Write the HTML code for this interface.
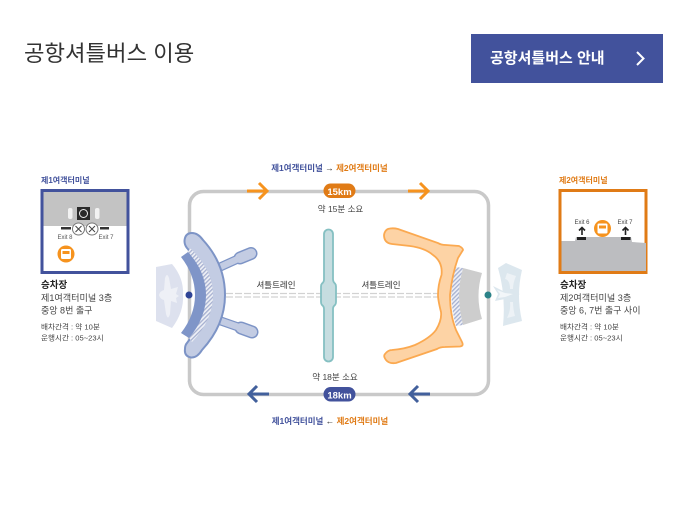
<!DOCTYPE html>
<html lang="ko"><head><meta charset="utf-8"><style>
html,body{margin:0;padding:0;background:#fff}
svg{display:block}
text{font-family:"Liberation Sans","Noto Sans CJK KR",sans-serif;}
</style></head><body>
<svg width="694" height="509" viewBox="0 0 694 509" xmlns="http://www.w3.org/2000/svg">
<defs>
<pattern id="h" width="3" height="3" patternUnits="userSpaceOnUse" patternTransform="rotate(-45)"><rect width="3" height="3" fill="#eef0f6"/><rect width="3" height="1.300" fill="#a6b0d0"/></pattern>
</defs>
<rect width="694" height="509" fill="#fff"/>
<text x="24" y="61" font-size="22.300" fill="#333">공항셔틀버스 이용</text>
<rect x="471" y="34" width="192" height="49" fill="#42529c"/>
<text x="490" y="63" font-size="15" font-weight="700" fill="#fff">공항셔틀버스 안내</text>
<path d="M637 52l6.500 6.500-6.500 6.500" fill="none" stroke="#fff" stroke-width="2"/>

<!-- route -->
<rect x="189.500" y="191.500" width="299" height="203" rx="14" fill="none" stroke="#c9c9c9" stroke-width="3.500"/>
<text x="329.500" y="171" font-size="8.500" font-weight="700" text-anchor="middle"><tspan fill="#42529c">제1여객터미널</tspan><tspan fill="#222"> → </tspan><tspan fill="#e07b16">제2여객터미널</tspan></text>
<text x="330" y="424" font-size="8.500" font-weight="700" text-anchor="middle"><tspan fill="#42529c">제1여객터미널</tspan><tspan fill="#222"> ← </tspan><tspan fill="#e07b16">제2여객터미널</tspan></text>
<path d="M247 191h20M259 183l8 8-8 8M408 191h20M420 183l8 8-8 8" fill="none" stroke="#f6931e" stroke-width="3"/>
<path d="M269 394h-20M257 386l-8 8 8 8M430 394h-20M418 386l-8 8 8 8" fill="none" stroke="#42609c" stroke-width="3"/>
<rect x="323.500" y="183.500" width="32" height="14.500" rx="7.200" fill="#e07b16"/>
<text x="339.500" y="195" font-size="9.500" font-weight="700" fill="#fff" text-anchor="middle">15km</text>
<rect x="323.500" y="387" width="32" height="14.500" rx="7.200" fill="#42529c"/>
<text x="339.500" y="398.300" font-size="9.500" font-weight="700" fill="#fff" text-anchor="middle">18km</text>
<text x="340.500" y="212" font-size="8.500" fill="#444" text-anchor="middle">약 15분 소요</text>
<text x="335" y="380" font-size="8.500" fill="#444" text-anchor="middle">약 18분 소요</text>

<!-- train line -->
<path d="M226 293.500H452M226 297H452" stroke="#d2d2d2" stroke-width="1.300" stroke-dasharray="7 2" fill="none"/>
<text x="276" y="288" font-size="8.500" fill="#333" text-anchor="middle">셔틀트레인</text>
<text x="381" y="288" font-size="8.500" fill="#333" text-anchor="middle">셔틀트레인</text>
<path d="M324 234a4.500 4.500 0 0 1 9 0V279q0 3 2 4.500q1 1 1 3V302q0 2-1 3q-2 1.500-2 4V357a4.500 4.500 0 0 1-9 0V309q0-2.500-2-4q-1-1-1-3V286.500q0-2 1-3q2-1.500 2-4Z" fill="#c6dde0" stroke="#85c0c2" stroke-width="1.800"/>

<!-- left plane -->
<path d="M156 267L172 264Q184 278 183 295Q184 312 172 328L156 321Z" fill="#dde1ee"/>
<path d="M159 295Q160 291 164 290L165 278Q167 272 169 278L171 289L178 287L176 294L179 296L176 298L177 303L171 301L170 314Q168 321 166 314L164 300Q160 299 159 295Z" fill="#eef0f6"/>
<circle cx="189" cy="295" r="3.500" fill="#2f4496"/>

<!-- left terminal -->
<path d="M218 268L240 258M240 258L251 253.500" stroke="#7d94c6" stroke-width="9" stroke-linecap="round" fill="none"/>
<path d="M218 320L241 328" stroke="#7d94c6" stroke-width="9" stroke-linecap="round" fill="none"/>
<path d="M241 328L252 332" stroke="#7d94c6" stroke-width="13" stroke-linecap="round" fill="none"/>
<path d="M240 258L251 253.500" stroke="#7d94c6" stroke-width="13" stroke-linecap="round" fill="none"/>
<path d="M218 268L240 258" stroke="#c3cce3" stroke-width="6.500" fill="none"/>
<path d="M240 258L251 253.500" stroke="#c3cce3" stroke-width="10" stroke-linecap="round" fill="none"/>
<path d="M218 320L241 328" stroke="#c3cce3" stroke-width="6.500" fill="none"/>
<path d="M241 328L252 332" stroke="#c3cce3" stroke-width="10" stroke-linecap="round" fill="none"/>
<path d="M184.500 241Q185 233 192 233Q198 233 203 240Q225 264 225 295Q225 325 202 350Q197 358 191 357.500Q184 356 185 349Q185 345 187 343Q205 320 205 295Q205 268 187 248Q184.500 245 184.500 241Z" fill="#c3cce3" stroke="#7d94c6" stroke-width="2"/>
<path d="M190 248Q213 270 213 295Q213 320 192 342L189 338Q205 318 205 295Q205 270 188 252Z" fill="url(#h)"/>
<path d="M181 257L188 252Q206 272 206 295Q206 318 189 338L181 333Q195 315 195 295Q195 275 181 257Z" fill="#7f95c8"/>

<!-- right terminal -->
<path d="M463 268L482 273Q475 296 482 319L463 325Q455 295 463 268Z" fill="#cdcdcd"/>
<path d="M456 267L463 268Q455 295 463 325L456 326Q447 295 456 267Z" fill="url(#h)"/>
<path d="M384 235Q385 229 390 228.500Q394 228 398 229L438 243Q441 245 446 245L459 246Q463 248 463 250L458 258Q452 275 450 295Q450 315 456 330L462 342Q464 346 460 346.500L445 347Q440 347 437 349L396 363Q389 364 386 360Q383 356 385 354Q388 350 392 350Q405 349 415 345Q430 338 436 330Q442 320 441 312Q438 300 438 295Q438 285 441.500 275Q443 262 433 255Q425 248 410 246L392 244Q384 243 384 235Z" fill="#fdd3a5" stroke="#fba950" stroke-width="1.800"/>

<!-- right plane -->
<path d="M506 263L522 270Q516 295 522 321L503 326Q506 295 498 268Z" fill="#dce7ee"/>
<path d="M507 273L516 276Q513 283 513 289L510 289Q510 280 505 279Z" fill="#edf2f6"/>
<path d="M510 302L513 302Q513 309 515 316L507 318Q511 310 510 302Z" fill="#edf2f6"/>
<path d="M493 286L505 292L520 294L505 299L495 301L498 294Z" fill="#dce7ee"/>
<path d="M497 290L505 293L513 294L505 297L498 298L500 294Z" fill="#f2f6f9"/>
<circle cx="488" cy="295" r="3.500" fill="#2b8288"/>

<!-- left card -->
<text x="41" y="183" font-size="8" font-weight="700" fill="#42529c">제1여객터미널</text>
<rect x="42" y="190.500" width="86" height="82" fill="#fff" stroke="#42529c" stroke-width="3"/>
<rect x="43.500" y="192" width="83" height="34" fill="#c3c3c3"/>
<rect x="77" y="207" width="13" height="13" fill="#2a2a2a"/>
<circle cx="83.500" cy="213.500" r="4" fill="none" stroke="#eee" stroke-width="1"/>
<rect x="68" y="208" width="4.500" height="11" rx="2" fill="#f2f2f2"/>
<rect x="95" y="208" width="4.500" height="11" rx="2" fill="#f2f2f2"/>
<rect x="61" y="227" width="10" height="2.500" fill="#333"/>
<rect x="100" y="227" width="9" height="2.500" fill="#333"/>
<circle cx="78.500" cy="229" r="6" fill="#fff" stroke="#777" stroke-width="1"/>
<circle cx="92" cy="229" r="6" fill="#fff" stroke="#777" stroke-width="1"/>
<path d="M75.500 226l6 6M81.500 226l-6 6M89 226l6 6M95 226l-6 6" stroke="#444" stroke-width="1"/>
<text x="65" y="239" font-size="6" fill="#555" text-anchor="middle">Exit 8</text>
<text x="106" y="239" font-size="6" fill="#555" text-anchor="middle">Exit 7</text>
<circle cx="66" cy="254" r="8.500" fill="#f6931e"/>
<rect x="61" y="249" width="10" height="10" rx="1.500" fill="#fff"/>
<rect x="62.500" y="251" width="7" height="3" fill="#f6931e"/>
<text x="41" y="288" font-size="9.500" font-weight="700" fill="#222">승차장</text>
<text x="41" y="301" font-size="9.100" fill="#444">제1여객터미널 3층</text>
<text x="41" y="313.500" font-size="9" fill="#444">중앙 8번 출구</text>
<text x="41" y="329.500" font-size="7.600" fill="#444">배차간격 : 약 10분</text>
<text x="41" y="340.500" font-size="7.600" fill="#444">운행시간 : 05~23시</text>

<!-- right card -->
<text x="559" y="183" font-size="8" font-weight="700" fill="#e07b16">제2여객터미널</text>
<rect x="560" y="190.500" width="86" height="82" fill="#fff" stroke="#e07b16" stroke-width="3"/>
<path d="M561.500 241H575L576 237H631L632 242L646 243V271H561.500Z" fill="#bcbdc0"/>
<rect x="577" y="237" width="9" height="3" fill="#222"/>
<rect x="621" y="237" width="9.500" height="3" fill="#222"/>
<path d="M582 235V228M579 230.500l3-3 3 3M625.500 235V228M622.500 230.500l3-3 3 3" stroke="#222" stroke-width="1.600" fill="none"/>
<text x="582" y="224" font-size="6" fill="#444" text-anchor="middle">Exit 6</text>
<text x="625" y="224" font-size="6" fill="#444" text-anchor="middle">Exit 7</text>
<circle cx="602.500" cy="228.500" r="8.500" fill="#f6931e"/>
<rect x="597.500" y="223.500" width="10" height="10" rx="1.500" fill="#fff"/>
<rect x="599" y="225.500" width="7" height="3" fill="#f6931e"/>
<text x="560" y="288" font-size="9.500" font-weight="700" fill="#222">승차장</text>
<text x="560" y="301" font-size="9.100" fill="#444">제2여객터미널 3층</text>
<text x="560" y="313.500" font-size="9" fill="#444">중앙 6, 7번 출구 사이</text>
<text x="560" y="329.500" font-size="7.600" fill="#444">배차간격 : 약 10분</text>
<text x="560" y="340.500" font-size="7.600" fill="#444">운행시간 : 05~23시</text>
</svg>
</body></html>
